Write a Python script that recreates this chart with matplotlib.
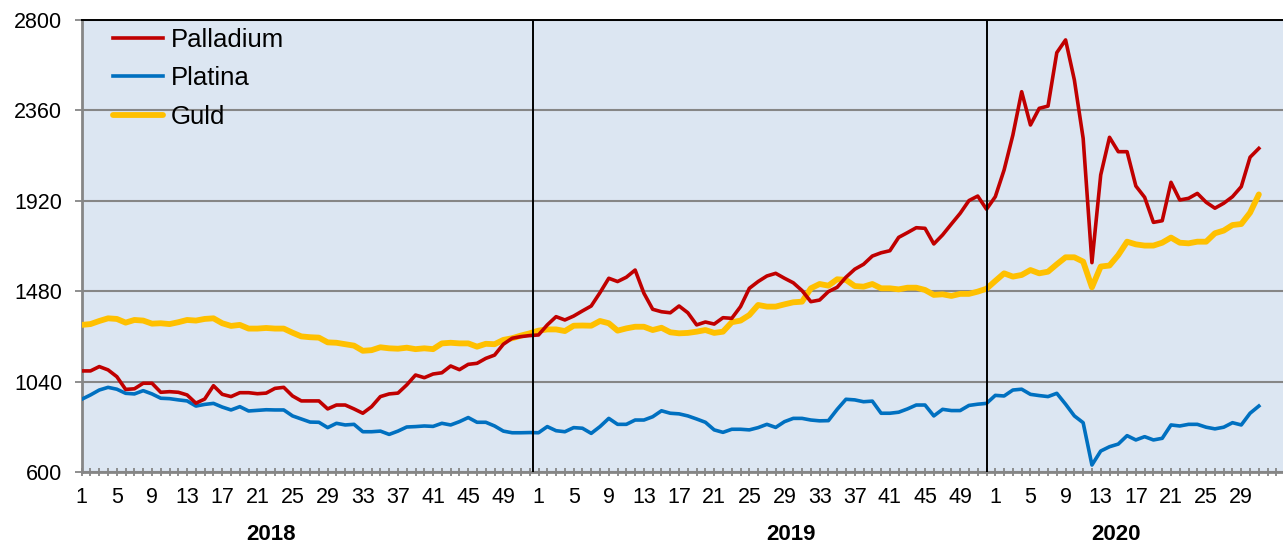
import matplotlib
matplotlib.use("Agg")
import matplotlib.pyplot as plt
from matplotlib.ticker import FixedLocator, NullFormatter

# ---- data ----
years = ["2018", "2019", "2020"]
weeks_2018 = list(range(1, 53))
weeks_2019 = list(range(1, 53))
weeks_2020 = list(range(1, 32))
week_labels = weeks_2018 + weeks_2019 + weeks_2020

palladium = [
    1092, 1092, 1113, 1097, 1064, 1002, 1005, 1032, 1032, 988,
    991, 988, 975, 935, 955, 1020, 978, 967, 986, 986,
    981, 984, 1007, 1012, 970, 946, 946, 946, 907, 926,
    926, 907, 886, 918, 967, 980, 984, 1024, 1072, 1059,
    1077, 1083, 1116, 1098, 1124, 1129, 1153, 1169, 1222, 1251,
    1259, 1264,
    1267, 1316, 1356, 1340, 1359, 1384, 1408, 1473, 1543, 1527,
    1548, 1583, 1470, 1392, 1380, 1375, 1408, 1375, 1316, 1330,
    1320, 1351, 1348, 1405, 1494, 1527, 1554, 1567, 1543, 1521,
    1483, 1429, 1437, 1478, 1499, 1548, 1587, 1611, 1651, 1667,
    1677, 1742, 1765, 1789, 1786, 1710, 1754, 1807, 1859, 1921,
    1943, 1879,
    1940, 2070, 2240, 2451, 2289, 2370, 2381, 2641, 2703, 2508,
    2224, 1619, 2046, 2229, 2159, 2159, 1992, 1937, 1815, 1823,
    2010, 1924, 1932, 1956, 1913, 1884, 1908, 1940, 1989, 2132,
    2175,
]

platina = [
    954, 975, 999, 1012, 1003, 983, 980, 996, 980, 959,
    957, 951, 946, 921, 929, 934, 916, 902, 918, 897,
    900, 903, 902, 902, 873, 858, 843, 842, 816, 837,
    829, 832, 796, 796, 799, 783, 799, 819, 821, 824,
    822, 837, 829, 845, 865, 842, 842, 824, 799, 791,
    791, 792,
    791, 821, 801, 796, 816, 813, 788, 821, 861, 832,
    832, 853, 853, 869, 898, 886, 883, 873, 858, 842,
    805, 793, 808, 808, 805, 816, 832, 817, 845, 861,
    861, 853, 849, 850, 905, 954, 951, 942, 945, 886,
    886, 891, 907, 926, 926, 873, 905, 899, 899, 924,
    930, 934,
    973, 970, 999, 1003, 978, 972, 967, 983, 930, 873,
    840, 634, 702, 723, 736, 777, 756, 772, 756, 764,
    829, 824, 832, 832, 818, 810, 818, 840, 829, 886,
    921,
]

guld = [
    1316, 1320, 1335, 1348, 1345, 1327, 1340, 1337, 1322, 1324,
    1320, 1329, 1340, 1337, 1345, 1348, 1324, 1311, 1316, 1298,
    1298, 1301, 1298, 1298, 1278, 1260, 1256, 1254, 1231, 1229,
    1222, 1215, 1190, 1193, 1207, 1202, 1200, 1205, 1198, 1202,
    1198, 1226, 1229, 1226, 1226, 1210, 1224, 1222, 1243, 1251,
    1264, 1275,
    1288, 1294, 1294, 1286, 1312, 1313, 1312, 1335, 1324, 1288,
    1299, 1307, 1307, 1291, 1302, 1280, 1275, 1277, 1283, 1291,
    1277, 1283, 1329, 1337, 1364, 1413, 1405, 1405, 1416, 1426,
    1429, 1494, 1515, 1507, 1538, 1535, 1505, 1502, 1515, 1494,
    1494, 1489, 1497, 1497, 1486, 1462, 1465, 1457, 1467, 1467,
    1478, 1492,
    1530, 1567, 1551, 1559, 1583, 1567, 1575, 1611, 1645, 1645,
    1624, 1499, 1600, 1605, 1656, 1721, 1708, 1702, 1702, 1716,
    1741, 1716, 1713, 1721, 1721, 1762, 1775, 1802, 1807, 1862,
    1951,
]

y_ticks = [600, 1040, 1480, 1920, 2360, 2800]
series_names = ["Palladium", "Platina", "Guld"]

# ---- figure ----
plt.rcParams["font.family"] = ["Liberation Sans", "DejaVu Sans"]
W, H = 1283, 545
fig = plt.figure(figsize=(W / 100, H / 100), dpi=100)
left_px, right_px, top_px, bot_px = 81.7, 1283, 20, 472
ax = fig.add_axes([left_px / W, 1 - bot_px / H,
                   (right_px - left_px) / W, (bot_px - top_px) / H])
ax.set_facecolor("#DCE6F2")

x = list(range(len(week_labels)))
n18, n19 = len(weeks_2018), len(weeks_2019)

ax.plot(x, guld, color="#FFC000", lw=4.2, solid_capstyle="round",
        solid_joinstyle="round", zorder=3, label=series_names[2])
ax.plot(x, platina, color="#0070C0", lw=2.6, solid_joinstyle="round",
        zorder=4, label=series_names[1])
ax.plot(x, palladium, color="#C00000", lw=2.6, solid_joinstyle="round",
        zorder=5, label=series_names[0])

ax.set_ylim(600, 2800)
ax.set_xlim(0, 136.75)
ax.set_yticks(y_ticks)
ax.set_yticklabels([str(v) for v in y_ticks])
ax.yaxis.grid(True, color="#868686", lw=1.5, zorder=1)
ax.set_axisbelow(True)

# separators between years
for sx in (n18 - 0.57, n18 + n19 - 0.9):
    ax.axvline(sx, color="black", lw=1.4, zorder=6)

# x ticks
major = [i for i, w in enumerate(week_labels) if (w - 1) % 4 == 0]
ax.xaxis.set_major_locator(FixedLocator(major))
ax.set_xticklabels([str(week_labels[i]) for i in major])
ax.xaxis.set_minor_locator(FixedLocator(x + [135, 136]))
ax.xaxis.set_minor_formatter(NullFormatter())
ax.tick_params(axis="x", which="both", direction="inout", length=5.5,
               width=1.3, color="#868686", labelsize=15.5, pad=8)
ax.tick_params(axis="y", direction="out", length=5, width=1.3,
               color="#868686", labelsize=15.5, pad=9)

for s in ("left", "bottom"):
    ax.spines[s].set_color("#868686")
    ax.spines[s].set_linewidth(2)
ax.spines["right"].set_visible(False)
ax.spines["top"].set_color("black")
ax.spines["top"].set_linewidth(1.4)

# legend
handles, labels = ax.get_legend_handles_labels()
order = [2, 1, 0]
leg = ax.legend([handles[i] for i in order], [labels[i] for i in order],
                loc="upper left", bbox_to_anchor=(0.026, 0.983),
                frameon=False, fontsize=18.5, handlelength=1.95,
                handletextpad=0.3, labelspacing=0.57, borderpad=0,
                borderaxespad=0)
leg.set_zorder(10)

# year labels
for txt, xp in zip(years, (271, 791, 1116)):
    fig.text(xp / W, 1 - 535 / H, txt, ha="center", va="center",
             fontsize=16, fontweight="bold")

fig.savefig("out.png", dpi=100)
